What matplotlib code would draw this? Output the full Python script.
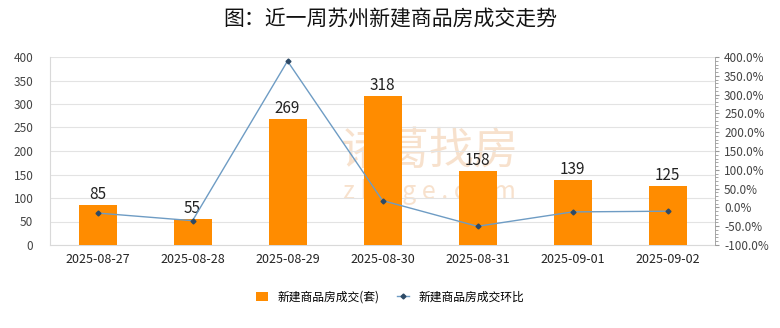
import numpy as np
import matplotlib.pyplot as plt
from matplotlib.ticker import MultipleLocator, FuncFormatter

plt.rcParams['font.family'] = ['Noto Sans CJK SC', 'DejaVu Sans']

dates = ['2025-08-27', '2025-08-28', '2025-08-29', '2025-08-30',
         '2025-08-31', '2025-09-01', '2025-09-02']
deals = [85, 55, 269, 318, 158, 139, 125]
# 环比 (%)
ratio = [-15.0, -35.3, 389.1, 18.2, -50.3, -12.0, -10.1]

fig = plt.figure(figsize=(7.8, 3.28), dpi=100)
ax = fig.add_axes([50 / 780, 1 - 245 / 328, 665 / 780, 188 / 328])
x = np.arange(len(dates))

bars = ax.bar(x, deals, width=0.4, color='#FF8C00', zorder=3,
              label='新建商品房成交(套)')
for xi, v in zip(x, deals):
    ax.text(xi, v + 4, str(v), ha='center', va='bottom', fontsize=11,
            color='#222222', zorder=4)

ax.set_xlim(-0.5, len(dates) - 0.5)
ax.set_ylim(0, 400)
ax.yaxis.set_major_locator(MultipleLocator(50))
ax.grid(axis='y', color='#E3E3E3', linewidth=0.8, zorder=0)
ax.set_xticks(x)
ax.set_xticklabels(dates, fontsize=9, color='#222222')
ax.tick_params(axis='y', labelsize=8.5, colors='#444444', length=0, pad=12)
ax.tick_params(axis='x', length=0, pad=6)
for s in ['top', 'right']:
    ax.spines[s].set_visible(False)
ax.spines['left'].set_color('#D9D9D9')
ax.spines['bottom'].set_color('#D9D9D9')

# watermark
ax.text(0.57, 0.50, '诸葛找房', transform=ax.transAxes, ha='center',
        va='center', fontsize=32, color='#F5D5B8', alpha=0.7, zorder=1)
ax.text(0.57, 0.28, 'z h u g e . c o m', transform=ax.transAxes,
        ha='center', va='center', fontsize=18, color='#F5D5B8', alpha=0.7,
        zorder=1)

ax2 = ax.twinx()
ax2.plot(x, ratio, color='#6E9CC4', linewidth=1, marker='D', markersize=2.5,
         markerfacecolor='#2E4A66', markeredgecolor='#2E4A66', zorder=5,
         label='新建商品房成交环比')
ax2.set_ylim(-100, 400)
ax2.yaxis.set_major_locator(MultipleLocator(50))
ax2.yaxis.set_minor_locator(MultipleLocator(10))
ax2.yaxis.set_major_formatter(FuncFormatter(lambda v, p: f'{v:.1f}%'))
ax2.tick_params(axis='y', which='major', labelsize=8.5, colors='#444444',
                length=3, color='#999999')
ax2.tick_params(axis='y', which='minor', length=2, color='#999999')
for s in ['top', 'left', 'bottom']:
    ax2.spines[s].set_visible(False)
ax2.spines['right'].set_color('#999999')
ax2.spines['right'].set_linewidth(0.6)
ax.set_zorder(ax2.get_zorder() - 1)
ax.patch.set_visible(False)

h1, l1 = ax.get_legend_handles_labels()
h2, l2 = ax2.get_legend_handles_labels()
fig.legend(h1 + h2, l1 + l2, loc='center', bbox_to_anchor=(0.5, 1 - 297 / 328),
           ncol=2, frameon=False, fontsize=8.5, handlelength=1.0,
           handleheight=0.7, columnspacing=1.5)

fig.suptitle('图：近一周苏州新建商品房成交走势', fontsize=15, y=0.975,
             color='#111111')

fig.savefig('out.png', dpi=100)
